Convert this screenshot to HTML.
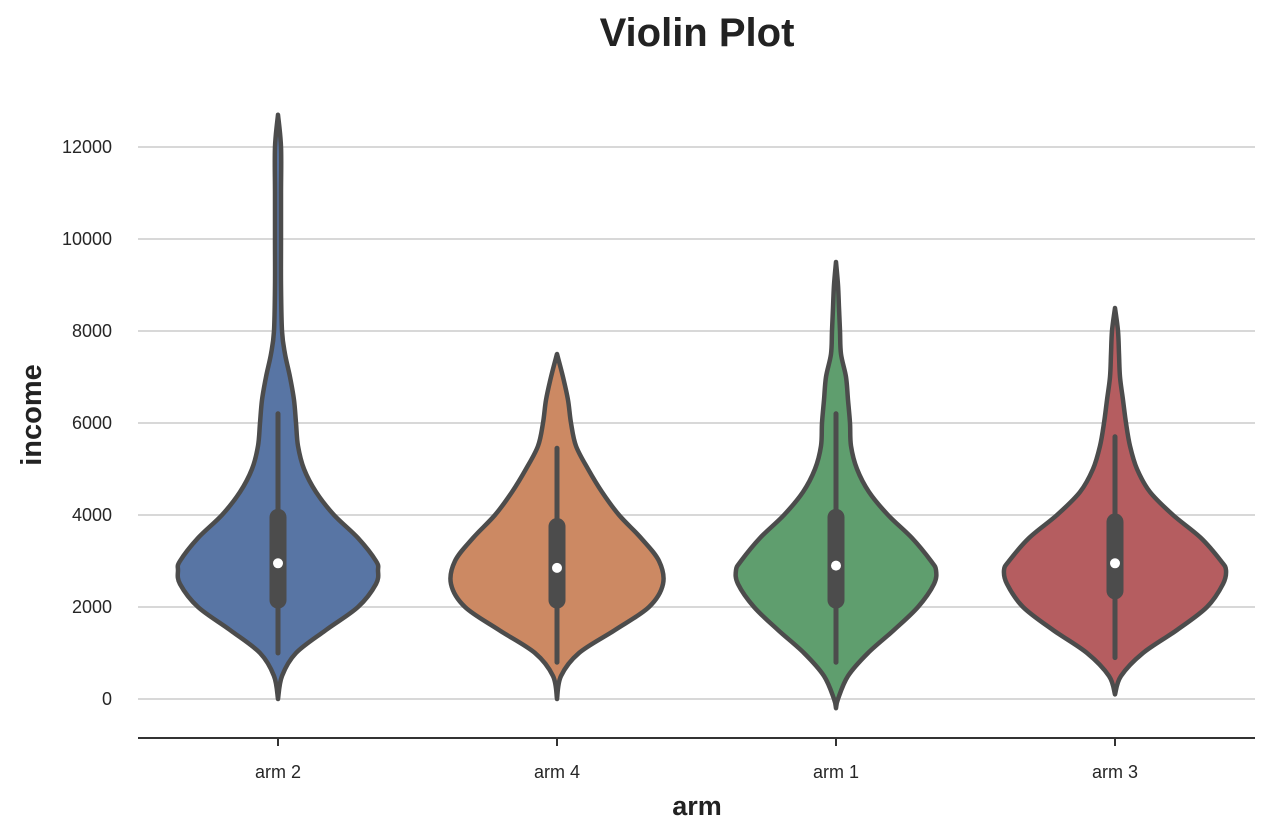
<!DOCTYPE html>
<html><head><meta charset="utf-8"><style>
body{margin:0;background:#fff;}
svg{display:block;font-family:"Liberation Sans",Arial,sans-serif;}
</style></head><body>
<svg id="chart" width="1269" height="835" viewBox="0 0 1269 835">
<text x="697" y="46" text-anchor="middle" font-size="40" font-weight="bold" fill="#222">Violin Plot</text>
<g id="grid"></g>
<g id="violins"></g>
<line x1="138" y1="738" x2="1255" y2="738" stroke="#333" stroke-width="2"/>
<g id="xticks"></g>
<text x="697" y="815" text-anchor="middle" font-size="27" font-weight="bold" fill="#222">arm</text>
<text transform="translate(41,415) rotate(-90)" text-anchor="middle" font-size="29" font-weight="bold" fill="#222">income</text>
</svg>
<script>
const categories = ["arm 2","arm 4","arm 1","arm 3"];
const colors = ["#5875a4","#cc8963","#5f9e6e","#b55d60"];
const yTicks = [0,2000,4000,6000,8000,10000,12000];
const densY = [
 [0,500,1000,1500,2000,2500,2800,3000,3500,4000,4500,5000,5500,6000,6500,7000,7500,8000,9000,10000,11000,12000,12700],
 [0,500,1000,1500,2000,2500,3000,3500,4000,4500,5000,5500,6000,6500,7000,7500],
 [-200,0,500,1000,1500,2000,2500,2800,3000,3500,4000,4500,5000,5500,6000,6500,7000,7500,8000,8500,9000,9500],
 [100,500,1000,1500,2000,2500,2800,3000,3500,4000,4500,5000,5500,6000,6500,7000,7500,8000,8500]
];
const densW = [
 [0,4,18,48,80,98,100,98,80,56,38,26,20,18,16,12,7,4,3,3,3,3,0],
 [0,4,22,58,92,106,102,84,62,45,31,19,14,11,6,0],
 [0,2,12,32,58,82,98,100,95,76,52,33,21,15,14,12,10,5,4,3,2,0],
 [0,6,28,62,92,108,111,106,86,58,35,22,15,11,8,5,4,3,0]
];
const q1 = [2150,2150,2150,2350];
const q3 = [3950,3750,3950,3850];
const med = [2950,2850,2900,2950];
const whLo = [1000,800,800,900];
const whHi = [6200,5450,6200,5700];

const NS="http://www.w3.org/2000/svg";
const yS = v => 699 - v*552/12000;
const xS = i => 278 + i*279;
function mk(tag, attrs, parent){const e=document.createElementNS(NS,tag);for(const k in attrs)e.setAttribute(k,attrs[k]);parent.appendChild(e);return e;}
const grid=document.getElementById('grid');
yTicks.forEach(t=>{
  const l=mk('line',{x1:138,x2:1255,y1:yS(t),y2:yS(t),stroke:'#cccccc','stroke-width':1.5},grid);
  
  
  const tx=mk('text',{x:112,y:yS(t)+6,'text-anchor':'end','font-size':18,fill:'#262626'},grid);
  tx.textContent=t;
  
  
});
function smooth(pts){
  let d='M'+pts[0][0]+','+pts[0][1];
  for(let i=0;i<pts.length-1;i++){
    const p0=pts[Math.max(0,i-1)],p1=pts[i],p2=pts[i+1],p3=pts[Math.min(pts.length-1,i+2)];
    const c1=[p1[0]+(p2[0]-p0[0])/6,p1[1]+(p2[1]-p0[1])/6];
    const c2=[p2[0]-(p3[0]-p1[0])/6,p2[1]-(p3[1]-p1[1])/6];
    d+=' C'+c1[0]+','+c1[1]+' '+c2[0]+','+c2[1]+' '+p2[0]+','+p2[1];
  }
  return d;
}
const vg=document.getElementById('violins');
const xt=document.getElementById('xticks');
categories.forEach((c,i)=>{
  const cx=xS(i);
  const right=densY[i].map((v,j)=>[cx+densW[i][j],yS(v)]);
  const left=densY[i].map((v,j)=>[cx-densW[i][j],yS(v)]).reverse();
  const d=smooth(right)+' L'+left[0][0]+','+left[0][1]+' '+smooth(left).slice(1)+' Z';
  const p=mk('path',{d:d,fill:colors[i],stroke:'#4c4c4c','stroke-width':4.5,'stroke-linejoin':'round'},vg);
  
  
  const w=mk('line',{x1:cx,x2:cx,y1:yS(whLo[i]),y2:yS(whHi[i]),stroke:'#4c4c4c','stroke-width':5,'stroke-linecap':'round'},vg);
  
  
  const b=mk('line',{x1:cx,x2:cx,y1:yS(q1[i]),y2:yS(q3[i]),stroke:'#4c4c4c','stroke-width':17,'stroke-linecap':'round'},vg);
  
  
  const m=mk('circle',{cx:cx,cy:yS(med[i]),r:5,fill:'#fff'},vg);
  
  
  const tk=mk('line',{x1:cx,x2:cx,y1:738,y2:746,stroke:'#333','stroke-width':2},xt);
  
  
  const tl=mk('text',{x:cx,y:778,'text-anchor':'middle','font-size':18,fill:'#262626'},xt);
  tl.textContent=c;
  
  
});
</script>
</body></html>
